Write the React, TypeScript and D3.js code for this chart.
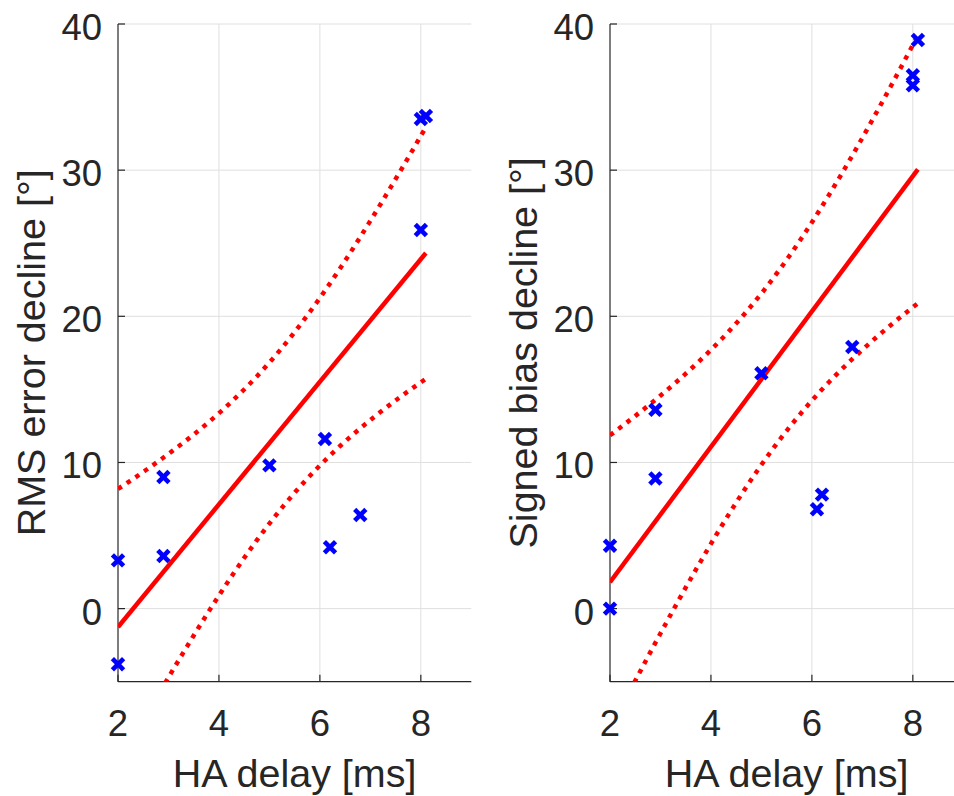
import React from "react";
import * as d3 from "d3";

// ---- data ----
const delayRMS = [2, 2, 2.9, 2.9, 5, 6.1, 6.2, 6.8, 8, 8, 8.1];
const rmsDecline = [3.3, -3.8, 9.0, 3.6, 9.8, 11.6, 4.2, 6.4, 25.9, 33.5, 33.7];
const delayBias = [2, 2, 2.9, 2.9, 5, 6.1, 6.2, 6.8, 8, 8, 8.1];
const biasDecline = [4.3, 0, 13.6, 8.9, 16.1, 6.8, 7.8, 17.9, 36.5, 35.8, 38.9];

const xTicks = [2, 4, 6, 8];
const yTicks = [0, 10, 20, 30, 40];
const xDomain = [2, 9];
const yDomain = [-5, 40];
const xLabel = "HA delay [ms]";
const yLabelLeft = "RMS error decline [°]";
const yLabelRight = "Signed bias decline [°]";

// Student t critical value (95%, two-sided) for n-2 = 9 degrees of freedom
const T_CRIT = 2.262;

const FONT = "'Liberation Sans', Arial, Helvetica, sans-serif";
const TEXT = "#262626";

function fit(xs: number[], ys: number[]) {
  const n = xs.length;
  const xm = d3.mean(xs)!;
  const ym = d3.mean(ys)!;
  let sxx = 0, sxy = 0;
  xs.forEach((x, i) => { sxx += (x - xm) ** 2; sxy += (x - xm) * (ys[i] - ym); });
  const b = sxy / sxx;
  const a = ym - b * xm;
  let sse = 0;
  xs.forEach((x, i) => { sse += (ys[i] - (a + b * x)) ** 2; });
  const s = Math.sqrt(sse / (n - 2));
  const half = (x: number) => T_CRIT * s * Math.sqrt(1 / n + (x - xm) ** 2 / sxx);
  return { a, b, half, xmin: d3.min(xs)!, xmax: d3.max(xs)! };
}

const TOP = 24;
const BOTTOM = 681.7;
const WIDTH = 353.3;

function Panel({ left, xs, ys, yLabel, id }: { left: number; xs: number[]; ys: number[]; yLabel: string; id: string }) {
  const x = d3.scaleLinear().domain(xDomain).range([left, left + WIDTH]);
  const y = d3.scaleLinear().domain(yDomain).range([BOTTOM, TOP]);
  const f = fit(xs, ys);
  const samples = d3.range(0, 81).map((i) => f.xmin + ((f.xmax - f.xmin) * i) / 80);
  const line = d3.line<[number, number]>().x((d) => x(d[0])).y((d) => y(d[1]));
  const mid = line([[f.xmin, f.a + f.b * f.xmin], [f.xmax, f.a + f.b * f.xmax]]) || "";
  const upper = line(samples.map((v) => [v, f.a + f.b * v + f.half(v)] as [number, number])) || "";
  const lower = line(samples.map((v) => [v, f.a + f.b * v - f.half(v)] as [number, number])) || "";
  const cx = left + WIDTH / 2;
  const cy = (TOP + BOTTOM) / 2;
  const m = 5.6;
  return (
    <g>
      <defs>
        <clipPath id={id}>
          <rect x={left} y={TOP} width={WIDTH} height={BOTTOM - TOP} />
        </clipPath>
      </defs>
      {/* grid */}
      {xTicks.filter((t) => t !== xDomain[0]).map((t) => (
        <line key={"gx" + t} x1={x(t)} x2={x(t)} y1={TOP} y2={BOTTOM} stroke="#dfdfdf" strokeWidth={1} />
      ))}
      {yTicks.map((t) => (
        <line key={"gy" + t} x1={left} x2={left + WIDTH} y1={y(t)} y2={y(t)} stroke="#dfdfdf" strokeWidth={1} />
      ))}
      {/* axes */}
      <line x1={left} x2={left} y1={TOP} y2={BOTTOM} stroke={TEXT} strokeWidth={1.2} />
      <line x1={left} x2={left + WIDTH} y1={BOTTOM} y2={BOTTOM} stroke={TEXT} strokeWidth={1.2} />
      {yTicks.map((t) => (
        <g key={"ty" + t}>
          <line x1={left} x2={left + 7} y1={y(t)} y2={y(t)} stroke={TEXT} strokeWidth={1.2} />
          <text x={left - 16} y={y(t) + 16} textAnchor="end" fontSize={36.5} fill={TEXT} fontFamily={FONT}>{t}</text>
        </g>
      ))}
      {xTicks.map((t) => (
        <g key={"tx" + t}>
          <line x1={x(t)} x2={x(t)} y1={BOTTOM} y2={BOTTOM - 7} stroke={TEXT} strokeWidth={1.2} />
          <text x={x(t)} y={BOTTOM + 54} textAnchor="middle" fontSize={36.5} fill={TEXT} fontFamily={FONT}>{t}</text>
        </g>
      ))}
      <text x={cx} y={787} textAnchor="middle" fontSize={39.5} fill={TEXT} fontFamily={FONT}>{xLabel}</text>
      <text transform={`translate(${left - 73},${cy}) rotate(-90)`} textAnchor="middle" fontSize={39.5} fill={TEXT} fontFamily={FONT}>{yLabel}</text>
      {/* fit and confidence band */}
      <g clipPath={`url(#${id})`} fill="none" stroke="#ff0000">
        <path d={upper} strokeWidth={4.5} strokeDasharray="4.5 6" />
        <path d={lower} strokeWidth={4.5} strokeDasharray="4.5 6" />
        <path d={mid} strokeWidth={4.5} />
      </g>
      {/* data markers */}
      {xs.map((v, i) => (
        <g key={"p" + i} transform={`translate(${x(v)},${y(ys[i])})`} stroke="#0000ff" strokeWidth={4.6}>
          <line x1={-m} y1={-m} x2={m} y2={m} />
          <line x1={-m} y1={m} x2={m} y2={-m} />
        </g>
      ))}
    </g>
  );
}

export default function App() {
  return (
    <svg width={954} height={796} style={{ position: "absolute", left: 0, top: 0, background: "#fff" }}>
      <rect width={954} height={796} fill="#fff" />
      <Panel left={118} xs={delayRMS} ys={rmsDecline} yLabel={yLabelLeft} id="clipL" />
      <Panel left={610} xs={delayBias} ys={biasDecline} yLabel={yLabelRight} id="clipR" />
    </svg>
  );
}
